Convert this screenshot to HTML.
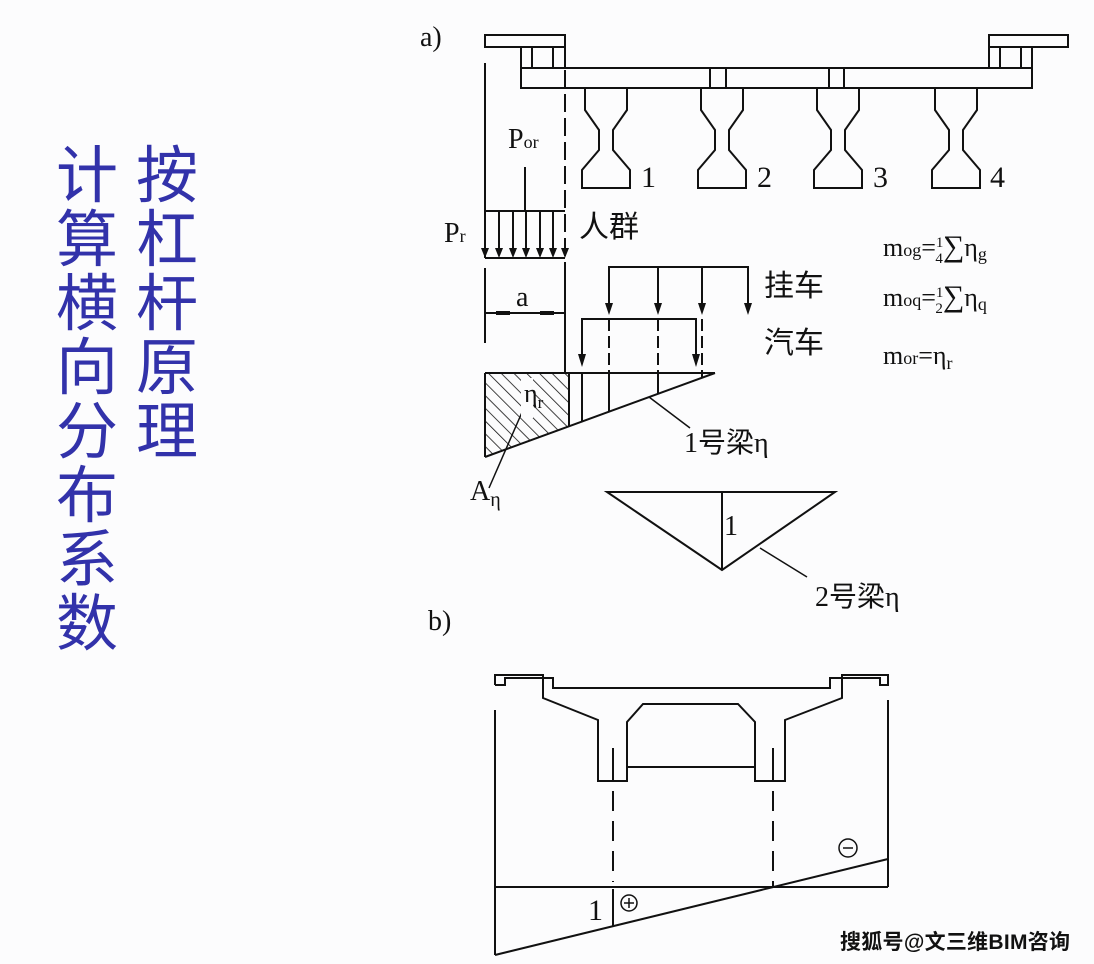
<!DOCTYPE html>
<html><head><meta charset="utf-8"><style>
html,body{margin:0;padding:0;background:#fcfcfd;}
svg{display:block}
.t{font-family:"Liberation Serif","Noto Serif CJK SC",serif;fill:#111}
.c{font-family:"Liberation Sans","Noto Sans CJK SC",sans-serif;fill:#111}
.b{font-family:"Liberation Sans","Noto Sans CJK SC",sans-serif;fill:#3232aa;font-size:62px}
</style></head><body>
<svg width="1094" height="964" viewBox="0 0 1094 964" xmlns="http://www.w3.org/2000/svg">
<defs>
<pattern id="h" width="9" height="9" patternUnits="userSpaceOnUse" patternTransform="rotate(-45)">
<line x1="0" y1="0" x2="0" y2="9" stroke="#111" stroke-width="1.6"/>
</pattern>
<clipPath id="hc"><polygon points="485,373 569,373 569,426 485,457"/></clipPath>
</defs>
<g class="b">
<text x="56" y="197">计</text><text x="56" y="261">算</text><text x="56" y="325">横</text><text x="56" y="389">向</text>
<text x="56" y="453">分</text><text x="56" y="517">布</text><text x="56" y="581">系</text><text x="56" y="645">数</text>
<text x="136" y="197">按</text><text x="136" y="261">杠</text><text x="136" y="325">杆</text><text x="136" y="389">原</text><text x="136" y="453">理</text>
</g>
<g stroke="#111" stroke-width="2" fill="none">
<polyline points="521,68 521,47 485,47 485,35 565,35 565,68"/>
<line x1="532" y1="47" x2="532" y2="68"/><line x1="553" y1="47" x2="553" y2="68"/><line x1="521" y1="47" x2="565" y2="47"/>
<polyline points="1032,68 1032,47 1068,47 1068,35 989,35 989,68"/>
<line x1="1000" y1="47" x2="1000" y2="68"/><line x1="1021" y1="47" x2="1021" y2="68"/><line x1="989" y1="47" x2="1032" y2="47"/>
<rect x="521" y="68" width="511" height="20"/>
<line x1="710" y1="68" x2="710" y2="88"/><line x1="726" y1="68" x2="726" y2="88"/>
<line x1="829" y1="68" x2="829" y2="88"/><line x1="844" y1="68" x2="844" y2="88"/>
<polygon points="-21,0 -21,22 -7,42 -7,62 -24,82 -24,100 24,100 24,82 7,62 7,42 21,22 21,0" transform="translate(606,88)"/>
<polygon points="-21,0 -21,22 -7,42 -7,62 -24,82 -24,100 24,100 24,82 7,62 7,42 21,22 21,0" transform="translate(722,88)"/>
<polygon points="-21,0 -21,22 -7,42 -7,62 -24,82 -24,100 24,100 24,82 7,62 7,42 21,22 21,0" transform="translate(838,88)"/>
<polygon points="-21,0 -21,22 -7,42 -7,62 -24,82 -24,100 24,100 24,82 7,62 7,42 21,22 21,0" transform="translate(956,88)"/>
<line x1="485" y1="63" x2="485" y2="258"/>
<line x1="485" y1="268" x2="485" y2="343"/>
<line x1="565" y1="70" x2="565" y2="258" stroke-dasharray="18,6"/>
<line x1="565" y1="262" x2="565" y2="373"/>
<line x1="525" y1="167" x2="525" y2="211"/>
<line x1="485" y1="211" x2="565" y2="211"/>
<line x1="485" y1="258" x2="565" y2="258"/>
<line x1="499" y1="211" x2="499" y2="250"/><line x1="513" y1="211" x2="513" y2="250"/><line x1="526" y1="211" x2="526" y2="250"/>
<line x1="540" y1="211" x2="540" y2="250"/><line x1="553" y1="211" x2="553" y2="250"/>
<line x1="485" y1="313" x2="565" y2="313"/>
<polyline points="609,308 609,267 748,267 748,308"/>
<line x1="658" y1="267" x2="658" y2="308"/><line x1="702" y1="267" x2="702" y2="308"/>
<polyline points="582,358 582,319 696,319 696,358"/>
<line x1="609" y1="319" x2="609" y2="373" stroke-dasharray="12,5"/>
<line x1="658" y1="319" x2="658" y2="373" stroke-dasharray="12,5"/>
<line x1="702" y1="319" x2="702" y2="373" stroke-dasharray="12,5"/>
<line x1="485" y1="373" x2="715" y2="373"/>
<line x1="715" y1="373" x2="485" y2="457"/>
<line x1="485" y1="373" x2="485" y2="457"/>
<line x1="569" y1="373" x2="569" y2="426"/>
<line x1="582" y1="373" x2="582" y2="421"/>
<line x1="609" y1="373" x2="609" y2="412"/>
<line x1="658" y1="373" x2="658" y2="394"/>
<line x1="702" y1="373" x2="702" y2="378"/>
<line x1="649" y1="397" x2="690" y2="428" stroke-width="1.5"/>
<line x1="523" y1="410" x2="489" y2="488" stroke-width="1.5"/>
<polygon points="607,492 835,492 722,570"/>
<line x1="722" y1="492" x2="722" y2="570"/>
<line x1="760" y1="548" x2="807" y2="577" stroke-width="1.5"/>
<polyline points="495,685 505,685 505,678 553,678 553,688 830,688 830,678 880,678 880,685 888,685 888,675 842,675 842,698 785,720 785,781 755,781 755,722 738,704 643,704 627,722 627,781 598,781 598,720 543,698 543,675 495,675 495,685"/>
<line x1="627" y1="767" x2="755" y2="767"/>
<line x1="495" y1="710" x2="495" y2="955"/>
<line x1="888" y1="700" x2="888" y2="887"/>
<line x1="613" y1="748" x2="613" y2="781"/>
<line x1="613" y1="791" x2="613" y2="882" stroke-dasharray="20,10"/>
<line x1="613" y1="889" x2="613" y2="927"/>
<line x1="773" y1="748" x2="773" y2="781"/>
<line x1="773" y1="791" x2="773" y2="887" stroke-dasharray="20,10"/>
<line x1="495" y1="887" x2="888" y2="887"/>
<line x1="495" y1="955" x2="888" y2="859"/>
<circle cx="629" cy="903" r="8" stroke-width="1.5"/>
<line x1="624" y1="903" x2="634" y2="903" stroke-width="1.5"/><line x1="629" y1="898" x2="629" y2="908" stroke-width="1.5"/>
<circle cx="848" cy="848" r="9" stroke-width="1.5"/>
<line x1="843" y1="848" x2="853" y2="848" stroke-width="1.5"/>
</g>
<rect x="485" y="373" width="84" height="84" fill="url(#h)" clip-path="url(#hc)"/>
<rect x="521" y="378" width="12" height="40" fill="#fcfcfd"/>
<g fill="#111">
<polygon points="481,248 489,248 485,258"/><polygon points="495,248 503,248 499,258"/><polygon points="509,248 517,248 513,258"/>
<polygon points="522,248 530,248 526,258"/><polygon points="536,248 544,248 540,258"/><polygon points="549,248 557,248 553,258"/>
<polygon points="561,248 569,248 565,258"/>
<polygon points="605,303 613,303 609,315"/><polygon points="654,303 662,303 658,315"/><polygon points="698,303 706,303 702,315"/><polygon points="744,303 752,303 748,315"/>
<polygon points="578,354 586,354 582,367"/><polygon points="692,354 700,354 696,367"/>
<rect x="496" y="311" width="14" height="4"/><rect x="540" y="311" width="14" height="4"/>
</g>
<text class="t" x="420" y="46" font-size="28">a)</text>
<text class="t" x="428" y="630" font-size="28">b)</text>
<text class="t" x="508" y="148" font-size="28">P<tspan font-size="18">or</tspan></text>
<text class="t" x="444" y="242" font-size="28">P<tspan font-size="18">r</tspan></text>
<text class="c" x="579" y="237" font-size="30">人群</text>
<text class="t" x="516" y="306" font-size="28">a</text>
<text class="t" x="641" y="187" font-size="30">1</text>
<text class="t" x="757" y="187" font-size="30">2</text>
<text class="t" x="873" y="187" font-size="30">3</text>
<text class="t" x="990" y="187" font-size="30">4</text>
<text class="c" x="764" y="296" font-size="30">挂车</text>
<text class="c" x="764" y="353" font-size="30">汽车</text>
<text class="t" x="883" y="256" font-size="26">m<tspan font-size="18">og</tspan>=<tspan font-size="15" dy="-9">1</tspan><tspan font-size="15" dx="-8" dy="16">4</tspan><tspan font-size="30" dy="-7">∑</tspan>η<tspan font-size="18" dy="4">g</tspan></text>
<text class="t" x="883" y="306" font-size="26">m<tspan font-size="18">oq</tspan>=<tspan font-size="15" dy="-9">1</tspan><tspan font-size="15" dx="-8" dy="16">2</tspan><tspan font-size="30" dy="-7">∑</tspan>η<tspan font-size="18" dy="4">q</tspan></text>
<text class="t" x="883" y="364" font-size="26">m<tspan font-size="18">or</tspan>=η<tspan font-size="18" dy="5">r</tspan></text>
<text class="t" x="524" y="402" font-size="26">η<tspan font-size="17" dy="6">r</tspan></text>
<text class="c" x="684" y="452" font-size="28"><tspan class="t">1</tspan>号梁<tspan class="t">η</tspan></text>
<text class="t" x="470" y="500" font-size="28">A<tspan font-size="20" dy="6">η</tspan></text>
<text class="t" x="724" y="535" font-size="28">1</text>
<text class="c" x="815" y="606" font-size="28"><tspan class="t">2</tspan>号梁<tspan class="t">η</tspan></text>
<text class="t" x="588" y="920" font-size="30">1</text>
<text class="c" x="840" y="949" font-size="21" font-weight="bold" fill="#222" textLength="230">搜狐号@文三维BIM咨询</text>
</svg>
</body></html>
